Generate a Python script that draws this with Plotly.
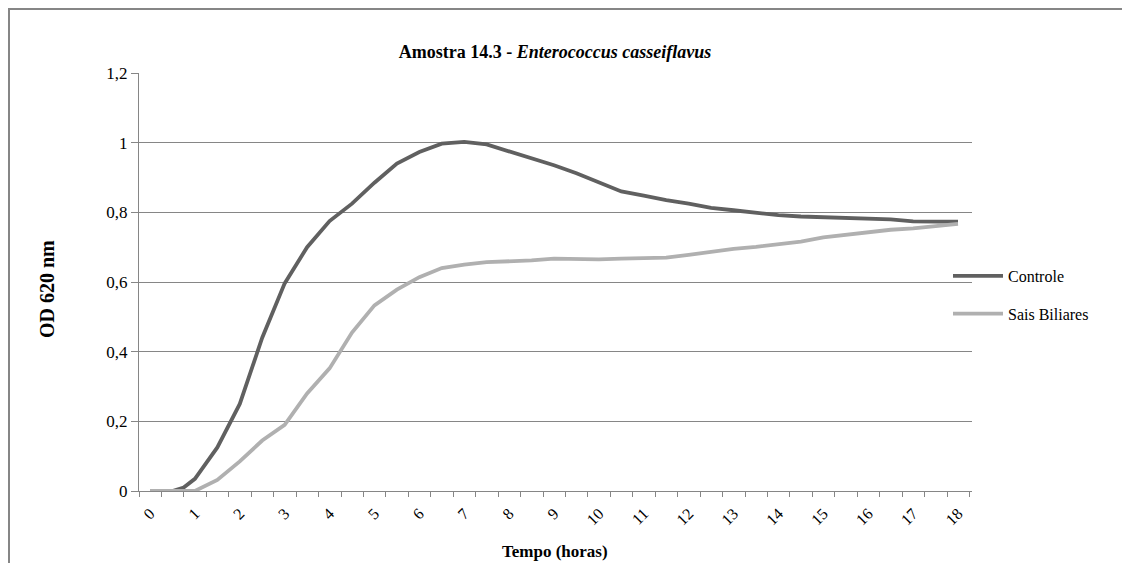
import plotly.graph_objects as go

hours = [0, 0.5, 0.75, 1, 1.5, 2, 2.5, 3, 3.5, 4, 4.5, 5, 5.5, 6, 6.5, 7, 7.5, 8, 8.5, 9,
         9.5, 10, 10.5, 11, 11.5, 12, 12.5, 13, 13.5, 14, 14.5, 15, 15.5, 16, 16.5, 17, 17.5, 18]

controle = [0, 0, 0.01, 0.035, 0.125, 0.25, 0.44, 0.596, 0.70, 0.775, 0.825, 0.885, 0.94, 0.973,
            0.997, 1.002, 0.995, 0.975, 0.955, 0.935, 0.912, 0.885, 0.86, 0.848, 0.835, 0.825,
            0.813, 0.806, 0.799, 0.792, 0.788, 0.786, 0.785, 0.782, 0.78, 0.774, 0.773, 0.773]

sais_biliares = [0, 0, 0, 0, 0.032, 0.085, 0.145, 0.19, 0.28, 0.352, 0.455, 0.533, 0.578, 0.614,
                 0.64, 0.65, 0.657, 0.659, 0.662, 0.667, 0.666, 0.665, 0.667, 0.668, 0.67, 0.678,
                 0.687, 0.695, 0.701, 0.708, 0.716, 0.728, 0.735, 0.743, 0.75, 0.754, 0.76, 0.767]

x_ticks = list(range(0, 19))
x_labels = [str(v) for v in x_ticks]
y_ticks = [0, 0.2, 0.4, 0.6, 0.8, 1.0, 1.2]
y_labels = ["0", "0,2", "0,4", "0,6", "0,8", "1", "1,2"]

# figure pixel coordinates (page is offset by an 8px body margin)
W, H = 1114, 555
L, R, T, B = 131, 964, 65, 483
FONT = "'Liberation Serif', 'Times New Roman', Times, serif"
GRID = "#868686"

fig = go.Figure()
fig.add_trace(go.Scatter(x=hours, y=controle, mode="lines", name="Controle",
                         legendgroup="c", line=dict(color="#606060", width=3.8)))
fig.add_trace(go.Scatter(x=hours, y=sais_biliares, mode="lines", name="Sais Biliares",
                         legendgroup="s", line=dict(color="#b0b0b0", width=3.8)))

first_px, last_px = 142, 950
px_per_h = (last_px - first_px) / 18.0
x0 = -(first_px - L) / px_per_h
x1 = 18 + (R - last_px) / px_per_h


def px(xp):
    return (xp - L) / (R - L)


def py(yp):
    return (B - yp) / (B - T)


fig.update_layout(
    width=W, height=H,
    margin=dict(l=L, r=W - R, t=T, b=H - B, pad=0, autoexpand=False),
    paper_bgcolor="white", plot_bgcolor="white",
    font=dict(family=FONT, color="black", size=15),
    title=dict(text="<b>Amostra 14.3 - <i>Enterococcus casseiflavus</i></b>",
               x=px(547), xref="paper", xanchor="center",
               y=1 - 44 / H, yanchor="middle",
               font=dict(family=FONT, size=18, color="black")),
    xaxis=dict(range=[x0, x1], tickmode="array", tickvals=x_ticks, ticktext=x_labels,
               tickangle=-45, ticks="", showgrid=False, zeroline=False,
               showline=True, linecolor=GRID, linewidth=1, automargin=False,
               ticklabelstandoff=6,
               tickfont=dict(family=FONT, size=16, color="black"),
               minor=dict(tick0=x0, dtick=0.5, ticks="outside", ticklen=5,
                          tickcolor=GRID, tickwidth=1, showgrid=False)),
    yaxis=dict(range=[0, 1.2], tickmode="array", tickvals=y_ticks, ticktext=y_labels,
               ticks="outside", ticklen=7, tickcolor=GRID, showgrid=True,
               gridcolor=GRID, gridwidth=1, zeroline=False, automargin=False,
               showline=True, linecolor=GRID, linewidth=1,
               tickfont=dict(family=FONT, size=17, color="black")),
    legend=dict(x=px(940), xanchor="left", y=py(287), yanchor="middle",
                bgcolor="rgba(0,0,0,0)", tracegroupgap=14, itemwidth=50,
                font=dict(family=FONT, size=16, color="black")),
    annotations=[
        dict(text="<b>Tempo (horas)</b>", xref="paper", yref="paper",
             x=px(547), y=py(543), xanchor="center", yanchor="middle",
             showarrow=False, font=dict(family=FONT, size=17, color="black")),
        dict(text="<b>OD 620 nm</b>", xref="paper", yref="paper",
             x=px(39), y=py(281), xanchor="center", yanchor="middle", textangle=-90,
             showarrow=False, font=dict(family=FONT, size=20, color="black")),
    ],
    shapes=[
        dict(type="line", xref="paper", yref="paper",
             x0=px(0), x1=px(W), y0=py(1), y1=py(1),
             line=dict(color=GRID, width=2), layer="below"),
        dict(type="line", xref="paper", yref="paper",
             x0=px(1), x1=px(1), y0=py(0), y1=py(H),
             line=dict(color=GRID, width=2), layer="below"),
    ],
)

fig.write_html("out.html")
